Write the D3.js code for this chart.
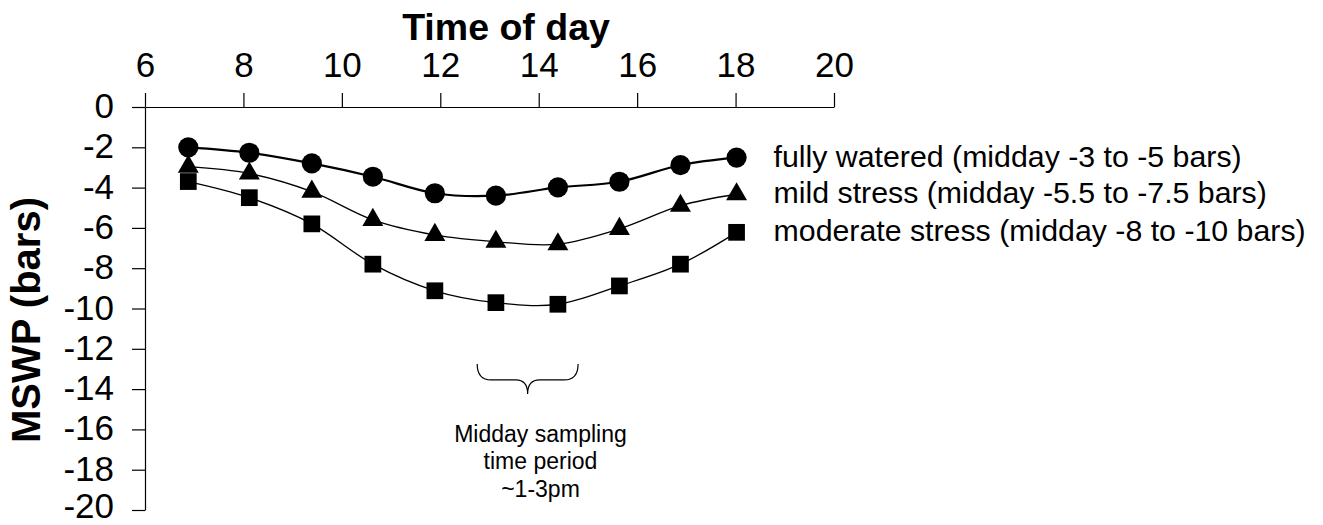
<!DOCTYPE html>
<html>
<head>
<meta charset="utf-8">
<script src="https://cdn.jsdelivr.net/npm/d3@7"></script>
<style>
  body { margin: 0; background: #fff; }
  text { font-family: "Liberation Sans", Arial, sans-serif; fill: #000; }
</style>
</head>
<body>
<div id="canvas"></div>
<script>
// time of day (hours) of each reading
const hours = [6.88, 8.12, 9.39, 10.63, 11.89, 13.13, 14.39, 15.64, 16.88, 18.02];
const fullyWatered = [-2.0, -2.27, -2.8, -3.46, -4.28, -4.4, -3.99, -3.71, -2.88, -2.51];
const mildStress = [-2.96, -3.3, -4.2, -5.6, -6.35, -6.69, -6.81, -6.05, -4.9, -4.33];
const moderateStress = [-3.7, -4.5, -5.8, -7.8, -9.12, -9.71, -9.79, -8.88, -7.8, -6.22];
const seriesNames = [
  "fully watered (midday -3 to -5 bars)",
  "mild stress (midday -5.5 to -7.5 bars)",
  "moderate stress (midday -8 to -10 bars)"
];
const xTicks = [6, 8, 10, 12, 14, 16, 18, 20];
const yTicks = [0, -2, -4, -6, -8, -10, -12, -14, -16, -18, -20];
const samplingWindow = [12.75, 14.8];
const samplingY = -12.75;
const noteLines = ["Midday sampling", "time period", "~1-3pm"];

const width = 1323;
const height = 525;

const svg = d3.select("#canvas").append("svg")
  .attr("width", width)
  .attr("height", height);

const x = d3.scaleLinear().domain([6, 20]).range([145, 834]);
const y = d3.scaleLinear().domain([0, -20]).range([107, 510]);

// axes (plain hyphen for negatives, like the original)
const fmt = d => String(d);

const xAxis = svg.append("g")
  .attr("transform", `translate(0,${y(0)})`)
  .call(d3.axisTop(x).tickValues(xTicks).tickFormat(fmt)
    .tickSizeInner(14).tickSizeOuter(0).tickPadding(16));
xAxis.selectAll("text").style("font-size", "35px");

const yAxis = svg.append("g")
  .attr("transform", `translate(${x(6)},0)`)
  .call(d3.axisLeft(y).tickValues(yTicks).tickFormat(fmt)
    .tickSizeInner(13).tickSizeOuter(0).tickPadding(18));
yAxis.selectAll("text").style("font-size", "35px")
  .attr("dy", d => d === -20 ? "0.2em" : "0.3em"); // keep bottom label inside the page

svg.selectAll(".domain, .tick line").attr("stroke", "#000").attr("stroke-width", 1.2);

svg.append("text")
  .attr("x", 506).attr("y", 40)
  .attr("text-anchor", "middle")
  .style("font-size", "37.5px").style("font-weight", "bold")
  .text("Time of day");

svg.append("text")
  .attr("transform", "translate(40,320) rotate(-90)")
  .attr("text-anchor", "middle")
  .style("font-size", "40px").style("font-weight", "bold")
  .text("MSWP (bars)");

// series
const series = [
  { values: fullyWatered, symbol: d3.symbolCircle, size: 320, lw: 2.2 },
  { values: mildStress, symbol: d3.symbolTriangle, size: 190, lw: 1.3 },
  { values: moderateStress, symbol: d3.symbolSquare, size: 280, lw: 1.3 }
];

const line = d3.line()
  .x(d => x(d[0]))
  .y(d => y(d[1]))
  .curve(d3.curveCardinal.tension(0));

series.forEach((s, i) => {
  const pts = hours.map((h, j) => [h, s.values[j]]);
  svg.append("path")
    .datum(pts)
    .attr("d", line)
    .attr("fill", "none")
    .attr("stroke", "#000")
    .attr("stroke-width", s.lw);

  svg.selectAll(null)
    .data(pts)
    .enter().append("path")
    .attr("transform", d => `translate(${x(d[0])},${y(d[1])})`)
    .attr("d", d3.symbol().type(s.symbol).size(s.size))
    .attr("fill", "#000");

  const last = pts[pts.length - 1];
  svg.append("text")
    .attr("x", x(last[0]) + 37)
    .attr("y", y(last[1]))
    .attr("dy", "0.3em")
    .style("font-size", "30.3px")
    .text(seriesNames[i]);
});

// midday sampling brace
const bx0 = x(samplingWindow[0]);
const bx1 = x(samplingWindow[1]);
const bm = (bx0 + bx1) / 2;
const by = y(samplingY);
svg.append("path")
  .attr("d", `M${bx0},${by} Q${bx0},${by + 16} ${bx0 + 14},${by + 16} L${bm - 12},${by + 16}
    Q${bm},${by + 16} ${bm},${by + 30} Q${bm},${by + 16} ${bm + 12},${by + 16}
    L${bx1 - 14},${by + 16} Q${bx1},${by + 16} ${bx1},${by}`)
  .attr("fill", "none")
  .attr("stroke", "#000")
  .attr("stroke-width", 1.2);

svg.selectAll(".note")
  .data(noteLines)
  .enter().append("text")
  .attr("class", "note")
  .attr("x", 540.5)
  .attr("y", (d, i) => 441.7 + i * 27.5)
  .attr("text-anchor", "middle")
  .style("font-size", "23px")
  .text(d => d);
</script>
</body>
</html>
